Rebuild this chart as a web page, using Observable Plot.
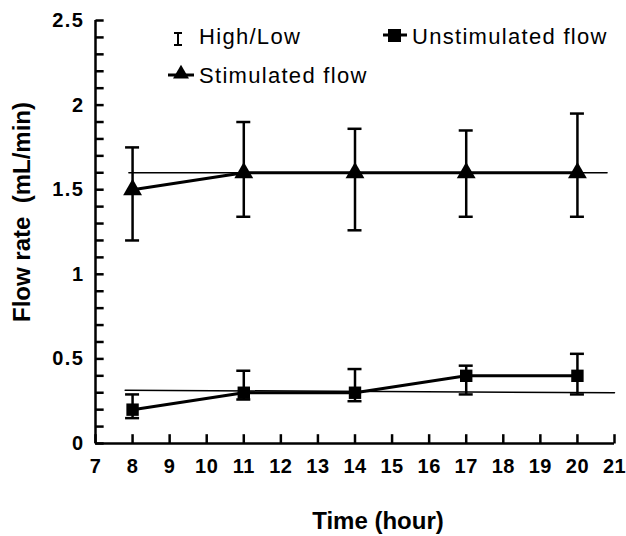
<!DOCTYPE html>
<html><head><meta charset="utf-8">
<script src="https://cdn.jsdelivr.net/npm/d3@7"></script>
<script src="https://cdn.jsdelivr.net/npm/@observablehq/plot@0.6"></script>
<style>body{margin:0;background:#fff} #chart{position:relative;width:626px;height:536px}</style>
</head><body><div id="chart"></div>
<script>
// ---- data ----
const hours = [8, 11, 14, 17, 20];
const stimMean = [1.5, 1.6, 1.6, 1.6, 1.6];
const stimHigh = [1.75, 1.9, 1.86, 1.85, 1.95];
const stimLow = [1.2, 1.34, 1.26, 1.34, 1.34];
const unstimMean = [0.2, 0.3, 0.3, 0.4, 0.4];
const unstimHigh = [0.29, 0.43, 0.44, 0.46, 0.53];
const unstimLow = [0.15, 0.26, 0.25, 0.29, 0.29];
const stimRefX = [7.9, 20.8];
const stimRefY = [1.6, 1.6];
const unstimRefX = [7.8, 21];
const unstimRefY = [0.315, 0.3];
const xTicks = [7, 8, 9, 10, 11, 12, 13, 14, 15, 16, 17, 18, 19, 20, 21];
const yMajor = [0, 0.5, 1, 1.5, 2, 2.5];
const yMinor = [0, 0.1, 0.2, 0.3, 0.4, 0.5, 0.6, 0.7, 0.8, 0.9, 1, 1.1, 1.2, 1.3, 1.4, 1.5, 1.6, 1.7, 1.8, 1.9, 2, 2.1, 2.2, 2.3, 2.4, 2.5];
const xDomain = [7, 21];
const yDomain = [0, 2.5];
const xTitle = "Time (hour)";
const yTitle = "Flow rate\u00a0\u00a0(mL/min)";
const legendItems = ["High/Low", "Stimulated flow", "Unstimulated flow"];

const stim = hours.map((h, i) => ({x: h, y: stimMean[i], hi: stimHigh[i], lo: stimLow[i]}));
const unstim = hours.map((h, i) => ({x: h, y: unstimMean[i], hi: unstimHigh[i], lo: unstimLow[i]}));
const stimRef = stimRefX.map((x, i) => ({x, y: stimRefY[i]}));
const unstimRef = unstimRefX.map((x, i) => ({x, y: unstimRefY[i]}));

// tick lengths expressed in data units (about 8 px on screen)
const yTickLen = 0.22;   // hours
const xTickLen = 0.055;  // mL/min
const yTickRows = yMinor.map(v => ({x1: xDomain[0], x2: xDomain[0] + yTickLen, y: v}));
const xTickRows = xTicks.map(v => ({x: v, y1: yDomain[0], y2: yDomain[0] + xTickLen}));

const errMarks = (d) => [
  Plot.ruleX(d, {x: "x", y1: "lo", y2: "hi", strokeWidth: 2.5}),
  Plot.ruleY(d, {y: "hi", x1: "x", x2: "x", insetLeft: -7, insetRight: -7, strokeWidth: 2.5}),
  Plot.ruleY(d, {y: "lo", x1: "x", x2: "x", insetLeft: -7, insetRight: -7, strokeWidth: 2.5})
];

const chart = Plot.plot({
  width: 626, height: 536,
  marginLeft: 95, marginRight: 12, marginTop: 20, marginBottom: 93,
  x: {domain: xDomain},
  y: {domain: yDomain},
  style: {fontFamily: "'Liberation Sans', Arial, sans-serif", color: "#000", background: "#fff"},
  marks: [
    Plot.axisY(yMajor, {tickSize: 0, tickPadding: 11, fontSize: 20, fontWeight: "bold", label: null, tickFormat: d => String(d)}),
    Plot.axisX(xTicks, {tickSize: 0, tickPadding: 15, fontSize: 20, fontWeight: "bold", label: null, tickFormat: d => String(d)}),
    Plot.link(yTickRows, {x1: "x1", x2: "x2", y1: "y", y2: "y", stroke: "#000", strokeWidth: 2.5}),
    Plot.link(xTickRows, {x1: "x", x2: "x", y1: "y1", y2: "y2", stroke: "#000", strokeWidth: 2.5}),
    Plot.ruleX([xDomain[0]], {strokeWidth: 2.5}),
    Plot.ruleY([yDomain[0]], {strokeWidth: 2.5}),
    Plot.line(stimRef, {x: "x", y: "y", strokeWidth: 1.5}),
    Plot.line(unstimRef, {x: "x", y: "y", strokeWidth: 1.5}),
    ...errMarks(stim),
    ...errMarks(unstim),
    Plot.line(stim, {x: "x", y: "y", strokeWidth: 3}),
    Plot.line(unstim, {x: "x", y: "y", strokeWidth: 3}),
    Plot.dot(stim, {x: "x", y: "y", symbol: "triangle", r: 7, fill: "black"}),
    Plot.dot(unstim, {x: "x", y: "y", symbol: "square", r: 7, fill: "black"}),
    Plot.text([xTitle], {text: d => d, frameAnchor: "bottom", textAnchor: "middle", lineAnchor: "middle", dx: 23, dy: 78, fontSize: 24, fontWeight: "bold"}),
    Plot.text([yTitle], {text: d => d, frameAnchor: "left", textAnchor: "middle", lineAnchor: "middle", rotate: -90, dx: -73, dy: -20, fontSize: 24, fontWeight: "bold"})
  ]
});
document.getElementById("chart").appendChild(chart);

const svg = d3.select(chart);
svg.selectAll('g[aria-label="y-axis tick label"] text').attr("letter-spacing", 1.5);
svg.selectAll('g[aria-label="x-axis tick label"] text').attr("letter-spacing", 0.5);

// legend
const lg = svg.append("g").attr("font-family", "'Liberation Sans', Arial, sans-serif").attr("font-size", 22).attr("letter-spacing", 1.3).attr("text-anchor", "start");
const hl = lg.append("g").attr("stroke", "#000").attr("stroke-width", 2);
hl.append("line").attr("x1", 178).attr("x2", 178).attr("y1", 33).attr("y2", 45);
hl.append("line").attr("x1", 174).attr("x2", 182).attr("y1", 33).attr("y2", 33);
hl.append("line").attr("x1", 174).attr("x2", 182).attr("y1", 45).attr("y2", 45);
lg.append("text").attr("x", 199).attr("y", 44).text(legendItems[0]);
lg.append("line").attr("x1", 168).attr("x2", 194).attr("y1", 75).attr("y2", 75).attr("stroke", "#000").attr("stroke-width", 3);
lg.append("path").attr("d", d3.symbol(d3.symbolTriangle, 110)()).attr("transform", "translate(181,74)").attr("fill", "#000");
lg.append("text").attr("x", 199).attr("y", 83).text(legendItems[1]);
lg.append("line").attr("x1", 383).attr("x2", 407).attr("y1", 35).attr("y2", 35).attr("stroke", "#000").attr("stroke-width", 3);
lg.append("rect").attr("x", 388).attr("y", 29).attr("width", 13).attr("height", 13).attr("fill", "#000");
lg.append("text").attr("x", 412).attr("y", 44).text(legendItems[2]);
</script></body></html>
